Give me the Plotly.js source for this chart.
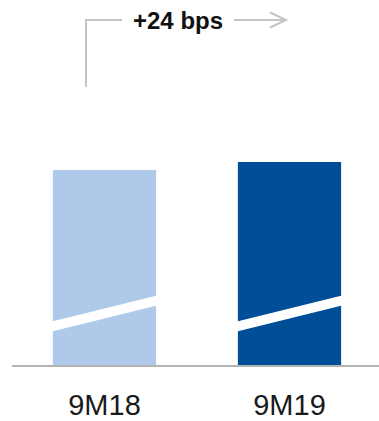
<!DOCTYPE html>
<html>
<head>
<meta charset="utf-8">
<script src="https://cdn.plot.ly/plotly-3.0.1.min.js"></script>
<style>html,body{margin:0;padding:0;background:#fff;}#chart{width:379px;height:421px;}</style>
</head>
<body>
<div id="chart"></div>
<script>
// Data (axis is broken/truncated in the original; values estimated)
var categories = ["9M18", "9M19"];
var values = [7.10, 7.34];
var barColors = ["#aec9e9", "#004e98"];
var changeLabel = "+24 bps";

// Layout constants
var W = 379, H = 421;
var mL = 12, mR = 0, mT = 0, mB = 56;
var plotH = H - mT - mB;           // 365
var pxPerCat = 185;
var xRange = [-0.5, -0.5 + (W - mL - mR) / pxPerCat];
var pxPerUnit = 33.333;
var yMin = values[0] - 195 / pxPerUnit;
var yRange = [yMin, yMin + plotH / pxPerUnit];
var barWidth = 0.558;

function py(pix) { return (plotH - pix) / plotH; } // pixel from top of plot -> paper
function px(pix) { return (pix - mL) / pxPerCat - 0.5; } // pixel from left -> data x

var xIdx = categories.map(function (c, i) { return i; });

var traces = [{
  type: "bar",
  x: xIdx,
  y: values,
  width: barWidth,
  marker: { color: barColors, line: { width: 0 } },
  hoverinfo: "skip"
}];

var shapes = [];
// axis-break stripes on each bar
xIdx.forEach(function (i) {
  var x0 = i - barWidth / 2 - 0.005, x1 = i + barWidth / 2 + 0.005;
  shapes.push({
    type: "path", xref: "x", yref: "paper", layer: "above",
    path: "M" + x0 + "," + py(321.5) + " L" + x1 + "," + py(295.5) +
          " L" + x1 + "," + py(305.5) + " L" + x0 + "," + py(331.5) + " Z",
    fillcolor: "#ffffff", line: { width: 0 }
  });
});
// bracket + arrow
var grey = "#c4c4c4";
var yb = py(20);
shapes.push({ type: "line", xref: "x", yref: "paper", x0: px(86), x1: px(86), y0: py(87), y1: yb + 1 / plotH, line: { color: grey, width: 2 } });
shapes.push({ type: "line", xref: "x", yref: "paper", x0: px(85), x1: px(122), y0: yb, y1: yb, line: { color: grey, width: 2 } });
shapes.push({ type: "line", xref: "x", yref: "paper", x0: px(234), x1: px(286), y0: yb, y1: yb, line: { color: grey, width: 2 } });
shapes.push({
  type: "path", xref: "x", yref: "paper",
  path: "M" + px(270) + "," + py(12.5) + " L" + px(286) + "," + yb + " L" + px(270) + "," + py(27.5),
  line: { color: grey, width: 2 }
});

var layout = {
  width: W, height: H,
  margin: { l: mL, r: mR, t: mT, b: mB, pad: 0 },
  paper_bgcolor: "#ffffff", plot_bgcolor: "#ffffff",
  showlegend: false,
  xaxis: {
    type: "linear", range: xRange, fixedrange: true,
    tickvals: xIdx, ticktext: categories,
    ticks: "", showgrid: false, zeroline: false,
    showline: true, linecolor: "#b3b3b3", linewidth: 2,
    ticklabelstandoff: 13,
    tickfont: { family: "Liberation Sans, Arial, sans-serif", size: 29, color: "#1a1a1a" }
  },
  yaxis: {
    range: yRange, fixedrange: true,
    showticklabels: false, showgrid: false, zeroline: false, showline: false, ticks: ""
  },
  shapes: shapes,
  annotations: [{
    xref: "x", yref: "paper", x: px(178), y: py(20), xanchor: "center", yanchor: "middle",
    text: "<b>" + changeLabel + "</b>", showarrow: false,
    font: { family: "Liberation Sans, Arial, sans-serif", size: 24, color: "#111111" }
  }]
};

Plotly.newPlot("chart", traces, layout, { displayModeBar: false, staticPlot: true });
</script>
</body>
</html>
